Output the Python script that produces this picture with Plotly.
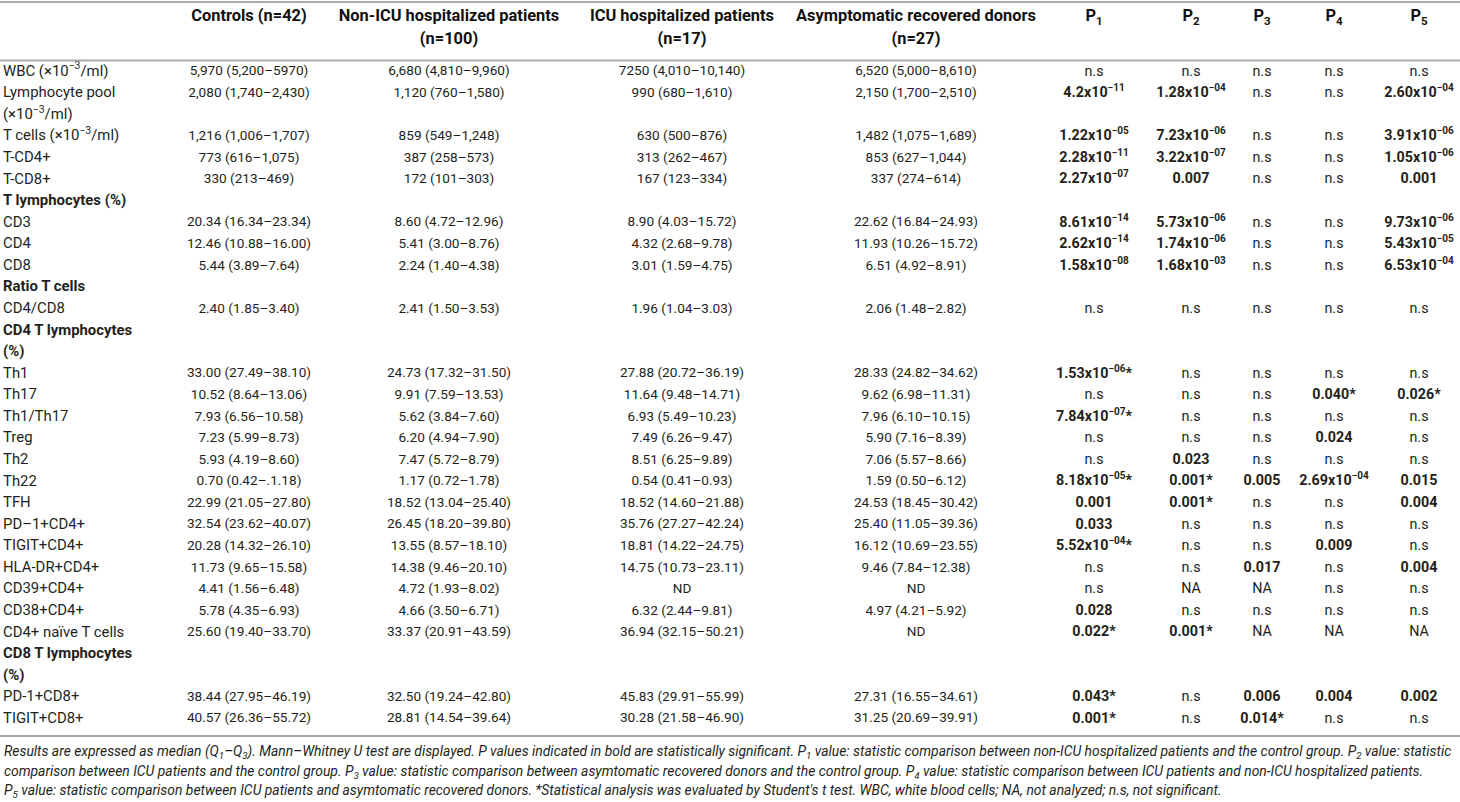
import re
import plotly.graph_objects as go

# ---- data -------------------------------------------------------------
head_top = ["Controls (n=42)", "Non-ICU hospitalized patients", "ICU hospitalized patients",
            "Asymptomatic recovered donors", "P<sub>1</sub>", "P<sub>2</sub>", "P<sub>3</sub>",
            "P<sub>4</sub>", "P<sub>5</sub>"]
head_bottom = ["", "(n=100)", "(n=17)", "(n=27)", "", "", "", "", ""]

labels = ["WBC (×10^-3/ml)", "Lymphocyte pool", "(×10^-3/ml)", "T cells (×10^-3/ml)",
          "T-CD4+", "T-CD8+", "T lymphocytes (%)", "CD3", "CD4", "CD8", "Ratio T cells",
          "CD4/CD8", "CD4 T lymphocytes", "(%)", "Th1", "Th17", "Th1/Th17", "Treg", "Th2",
          "Th22", "TFH", "PD–1+CD4+", "TIGIT+CD4+", "HLA-DR+CD4+", "CD39+CD4+", "CD38+CD4+",
          "CD4+ naïve T cells", "CD8 T lymphocytes", "(%)", "PD-1+CD8+", "TIGIT+CD8+"]

# rows printed in bold (section titles)
sections = [6, 10, 12, 13, 27, 28]

controls = ["5,970 (5,200–5970)", "2,080 (1,740–2,430)", "", "1,216 (1,006–1,707)",
            "773 (616–1,075)", "330 (213–469)", "", "20.34 (16.34–23.34)",
            "12.46 (10.88–16.00)", "5.44 (3.89–7.64)", "", "2.40 (1.85–3.40)", "", "",
            "33.00 (27.49–38.10)", "10.52 (8.64–13.06)", "7.93 (6.56–10.58)",
            "7.23 (5.99–8.73)", "5.93 (4.19–8.60)", "0.70 (0.42–.1.18)",
            "22.99 (21.05–27.80)", "32.54 (23.62–40.07)", "20.28 (14.32–26.10)",
            "11.73 (9.65–15.58)", "4.41 (1.56–6.48)", "5.78 (4.35–6.93)",
            "25.60 (19.40–33.70)", "", "", "38.44 (27.95–46.19)", "40.57 (26.36–55.72)"]

non_icu = ["6,680 (4,810–9,960)", "1,120 (760–1,580)", "", "859 (549–1,248)",
           "387 (258–573)", "172 (101–303)", "", "8.60 (4.72–12.96)", "5.41 (3.00–8.76)",
           "2.24 (1.40–4.38)", "", "2.41 (1.50–3.53)", "", "", "24.73 (17.32–31.50)",
           "9.91 (7.59–13.53)", "5.62 (3.84–7.60)", "6.20 (4.94–7.90)", "7.47 (5.72–8.79)",
           "1.17 (0.72–1.78)", "18.52 (13.04–25.40)", "26.45 (18.20–39.80)",
           "13.55 (8.57–18.10)", "14.38 (9.46–20.10)", "4.72 (1.93–8.02)",
           "4.66 (3.50–6.71)", "33.37 (20.91–43.59)", "", "", "32.50 (19.24–42.80)",
           "28.81 (14.54–39.64)"]

icu = ["7250 (4,010–10,140)", "990 (680–1,610)", "", "630 (500–876)", "313 (262–467)",
       "167 (123–334)", "", "8.90 (4.03–15.72)", "4.32 (2.68–9.78)", "3.01 (1.59–4.75)",
       "", "1.96 (1.04–3.03)", "", "", "27.88 (20.72–36.19)", "11.64 (9.48–14.71)",
       "6.93 (5.49–10.23)", "7.49 (6.26–9.47)", "8.51 (6.25–9.89)", "0.54 (0.41–0.93)",
       "18.52 (14.60–21.88)", "35.76 (27.27–42.24)", "18.81 (14.22–24.75)",
       "14.75 (10.73–23.11)", "ND", "6.32 (2.44–9.81)", "36.94 (32.15–50.21)", "", "",
       "45.83 (29.91–55.99)", "30.28 (21.58–46.90)"]

asymp = ["6,520 (5,000–8,610)", "2,150 (1,700–2,510)", "", "1,482 (1,075–1,689)",
         "853 (627–1,044)", "337 (274–614)", "", "22.62 (16.84–24.93)",
         "11.93 (10.26–15.72)", "6.51 (4.92–8.91)", "", "2.06 (1.48–2.82)", "", "",
         "28.33 (24.82–34.62)", "9.62 (6.98–11.31)", "7.96 (6.10–10.15)",
         "5.90 (7.16–8.39)", "7.06 (5.57–8.66)", "1.59 (0.50–6.12)",
         "24.53 (18.45–30.42)", "25.40 (11.05–39.36)", "16.12 (10.69–23.55)",
         "9.46 (7.84–12.38)", "ND", "4.97 (4.21–5.92)", "ND", "", "",
         "27.31 (16.55–34.61)", "31.25 (20.69–39.91)"]

p1 = ["n.s", "4.2x10^-11", "", "1.22x10^-05", "2.28x10^-11", "2.27x10^-07", "",
      "8.61x10^-14", "2.62x10^-14", "1.58x10^-08", "", "n.s", "", "", "1.53x10^-06*",
      "n.s", "7.84x10^-07*", "n.s", "n.s", "8.18x10^-05*", "0.001", "0.033",
      "5.52x10^-04*", "n.s", "n.s", "0.028", "0.022*", "", "", "0.043*", "0.001*"]

p2 = ["n.s", "1.28x10^-04", "", "7.23x10^-06", "3.22x10^-07", "0.007", "",
      "5.73x10^-06", "1.74x10^-06", "1.68x10^-03", "", "n.s", "", "", "n.s", "n.s",
      "n.s", "n.s", "0.023", "0.001*", "0.001*", "n.s", "n.s", "n.s", "NA", "n.s",
      "0.001*", "", "", "n.s", "n.s"]

p3 = ["n.s", "n.s", "", "n.s", "n.s", "n.s", "", "n.s", "n.s", "n.s", "", "n.s", "", "",
      "n.s", "n.s", "n.s", "n.s", "n.s", "0.005", "n.s", "n.s", "n.s", "0.017", "NA",
      "n.s", "NA", "", "", "0.006", "0.014*"]

p4 = ["n.s", "n.s", "", "n.s", "n.s", "n.s", "", "n.s", "n.s", "n.s", "", "n.s", "", "",
      "n.s", "0.040*", "n.s", "0.024", "n.s", "2.69x10^-04", "n.s", "n.s", "0.009", "n.s",
      "n.s", "n.s", "NA", "", "", "0.004", "n.s"]

p5 = ["n.s", "2.60x10^-04", "", "3.91x10^-06", "1.05x10^-06", "0.001", "",
      "9.73x10^-06", "5.43x10^-05", "6.53x10^-04", "", "n.s", "", "", "n.s", "0.026*",
      "n.s", "n.s", "n.s", "0.015", "0.004", "n.s", "n.s", "0.004", "n.s", "n.s", "NA",
      "", "", "0.002", "n.s"]

footnote = [
    "Results are expressed as median (Q<sub>1</sub>–Q<sub>3</sub>). Mann–Whitney U test are displayed. "
    "P values indicated in bold are statistically significant. P<sub>1</sub> value: statistic comparison "
    "between non-ICU hospitalized patients and the control group. P<sub>2</sub> value: statistic",
    "comparison between ICU patients and the control group. P<sub>3</sub> value: statistic comparison "
    "between asymtomatic recovered donors and the control group. P<sub>4</sub> value: statistic comparison "
    "between ICU patients and non-ICU hospitalized patients.",
    "P<sub>5</sub> value: statistic comparison between ICU patients and asymtomatic recovered donors. "
    "*Statistical analysis was evaluated by Student's t test. WBC, white blood cells; NA, not analyzed; "
    "n.s, not significant.",
]

# ---- layout ------------------------------------------------------------
W, H = 1460, 802
ROW0_PX, ROW_H = 72, 21.57           # first body row centre, row pitch (px)
LABEL_X = 3
col_x = [249, 449, 682, 916, 1094, 1191, 1262, 1334, 1419]
FONT = "Roboto, Arial, sans-serif"
TXT = "#231f20"
RULE = "#a9a9a9"


def row(px):
    return (px - ROW0_PX) / ROW_H


def sup(s):
    return re.sub(r"\^(-?\d+)",
                  lambda m: "<sup>" + m.group(1).replace("-", "−") + "</sup>", s)


def pval(s):
    if s in ("n.s", "NA", ""):
        return s
    return "<b>" + sup(s) + "</b>"


def text_trace(x, y, text, pos, size, color=TXT):
    # skip empty cells so no blank text elements get drawn
    keep = [i for i, t in enumerate(text) if t]
    return go.Scatter(x=[x[i] for i in keep], y=[y[i] for i in keep],
                      text=[text[i] for i in keep], mode="text", textposition=pos,
                      hoverinfo="skip", cliponaxis=False,
                      textfont=dict(family=FONT, size=size, color=color))


rows = list(range(len(labels)))
lab = ["<b>" + sup(s) + "</b>" if i in sections else sup(s) for i, s in enumerate(labels)]

fig = go.Figure()
fig.add_trace(text_trace([LABEL_X] * len(rows), rows, lab, "middle right", 14.9))

for cx, col in zip(col_x[:4], [controls, non_icu, icu, asymp]):
    fig.add_trace(text_trace([cx] * len(rows), rows, col, "middle center", 13.6))

for cx, col in zip(col_x[4:], [p1, p2, p3, p4, p5]):
    fig.add_trace(text_trace([cx] * len(rows), rows, [pval(v) for v in col],
                             "middle center", 14.3))

# header (two lines)
fig.add_trace(text_trace(col_x, [row(17)] * len(col_x),
                         ["<b>" + h + "</b>" for h in head_top],
                         "middle center", 16.4, "#111111"))
fig.add_trace(text_trace(col_x, [row(39.5)] * len(col_x),
                         ["<b>" + h + "</b>" if h else "" for h in head_bottom],
                         "middle center", 16.4, "#111111"))

# rules: top, under header, bottom
for yp in (2, 60.5, 736):
    fig.add_shape(type="line", xref="x", yref="y", x0=0, x1=W, y0=row(yp), y1=row(yp),
                  line=dict(color=RULE, width=2))

for k, line in enumerate(footnote):
    fig.add_annotation(x=2, y=row(752 + 19.5 * k), xref="x", yref="y",
                       xanchor="left", yanchor="middle", showarrow=False, align="left",
                       text="<i>" + line + "</i>",
                       font=dict(family=FONT, size=13.9, color=TXT))

fig.update_xaxes(range=[0, W], visible=False, fixedrange=True)
fig.update_yaxes(range=[row(H), row(0)], visible=False, fixedrange=True)
fig.update_layout(width=W, height=H, margin=dict(l=0, r=0, t=0, b=0),
                  showlegend=False, paper_bgcolor="white", plot_bgcolor="white")

# drop the browser's default page margin so the figure fills the window
fig.write_html("out.html", config={"displayModeBar": False},
               post_script="document.body.style.margin = '0';")
